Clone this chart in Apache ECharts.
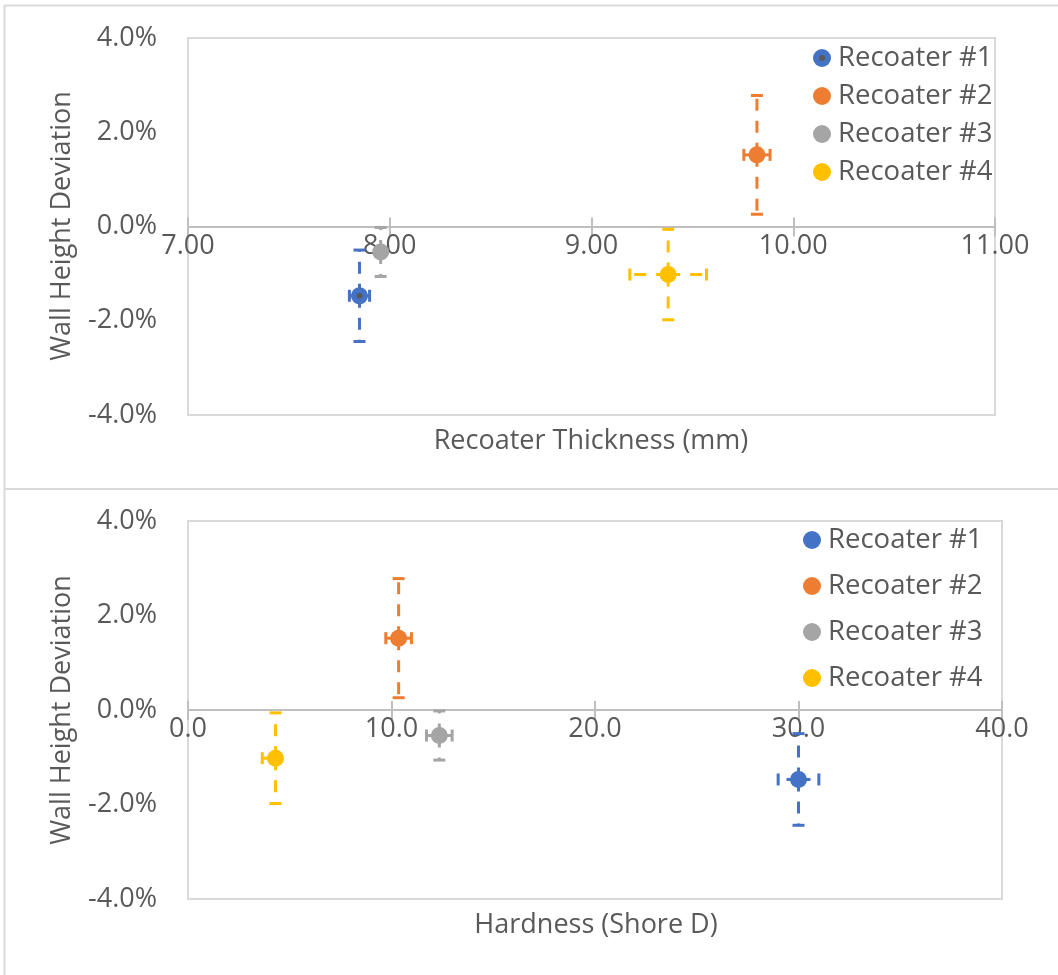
<!DOCTYPE html>
<html>
<head>
<meta charset="utf-8">
<script src="https://cdn.jsdelivr.net/npm/echarts@6/dist/echarts.min.js"></script>
<style>
html,body{margin:0;padding:0;background:#fff;}
#chart{width:1058px;height:975px;}
</style>
</head>
<body>
<div id="chart"></div>
<script>
// ---- Data ----
const seriesNames = ['Recoater #1', 'Recoater #2', 'Recoater #3', 'Recoater #4'];
const colors = ['#4472C4', '#ED7D31', '#A5A5A5', '#FFC000'];
// Wall height deviation (%) and its error
const deviation = [-1.47, 1.52, -0.54, -1.02];
const deviationErr = [0.97, 1.26, 0.52, 0.96];
// Top chart: recoater thickness (mm)
const thickness = [7.85, 9.82, 7.955, 9.38];
const thicknessErr = [0.05, 0.065, 0.02, 0.19];
// Bottom chart: hardness (Shore D)
const hardness = [30.0, 10.35, 12.35, 4.3];
const hardnessErrMinus = [1.0, 0.63, 0.63, 0.65];
const hardnessErrPlus = [1.0, 0.63, 0.63, 0.0];
// Axis ticks
const thicknessTicks = { min: 7, max: 11, interval: 1 };
const hardnessTicks = { min: 0, max: 40, interval: 10 };
const deviationTicks = { min: -4, max: 4, interval: 2 };

const FONT = 'Open Sans';
const TXT = '#595959';
const AXIS = '#bfbfbf';

const grids = [
  { left: 188, top: 38, width: 807, height: 377 },
  { left: 188, top: 521, width: 814, height: 378 }
];

const blueDotSvg = "<svg xmlns='http://www.w3.org/2000/svg' width='36' height='36'><circle cx='18' cy='18' r='18' fill='#4472C4'/><circle cx='18' cy='18' r='6' fill='#595959'/></svg>";
const blueDotIcon = 'image://data:image/svg+xml;utf8,' + encodeURIComponent(blueDotSvg);

function errRender(color) {
  return function (params, api) {
    const x = api.value(0), y = api.value(1);
    const xLo = api.value(2), xHi = api.value(3), yErr = api.value(4);
    const c = api.coord([x, y]);
    const children = [];
    const dash = { stroke: color, lineWidth: 3, lineDash: [12, 10] };
    const cap = { stroke: color, lineWidth: 3 };
    const half = 6;
    if (yErr > 0) {
      const up = api.coord([x, y + yErr]);
      const dn = api.coord([x, y - yErr]);
      children.push({ type: 'line', shape: { x1: c[0], y1: c[1], x2: up[0], y2: up[1] }, style: dash });
      children.push({ type: 'line', shape: { x1: c[0], y1: c[1], x2: dn[0], y2: dn[1] }, style: dash });
      children.push({ type: 'line', shape: { x1: up[0] - half, y1: up[1], x2: up[0] + half, y2: up[1] }, style: cap });
      children.push({ type: 'line', shape: { x1: dn[0] - half, y1: dn[1], x2: dn[0] + half, y2: dn[1] }, style: cap });
    }
    if (xLo > 0) {
      const l = api.coord([x - xLo, y]);
      children.push({ type: 'line', shape: { x1: c[0], y1: c[1], x2: l[0], y2: l[1] }, style: dash });
      children.push({ type: 'line', shape: { x1: l[0], y1: l[1] - half, x2: l[0], y2: l[1] + half }, style: cap });
    }
    if (xHi > 0) {
      const r = api.coord([x + xHi, y]);
      children.push({ type: 'line', shape: { x1: c[0], y1: c[1], x2: r[0], y2: r[1] }, style: dash });
      children.push({ type: 'line', shape: { x1: r[0], y1: r[1] - half, x2: r[0], y2: r[1] + half }, style: cap });
    }
    return { type: 'group', children: children };
  };
}

const series = [];
// error bars first (under markers)
seriesNames.forEach(function (n, i) {
  series.push({
    type: 'custom', name: 'errTop' + i, xAxisIndex: 0, yAxisIndex: 0, z: 2,
    renderItem: errRender(colors[i]), encode: { x: 0, y: 1 },
    data: [[thickness[i], deviation[i], thicknessErr[i], thicknessErr[i], deviationErr[i]]],
    silent: true
  });
  series.push({
    type: 'custom', name: 'errBot' + i, xAxisIndex: 2, yAxisIndex: 1, z: 2,
    renderItem: errRender(colors[i]), encode: { x: 0, y: 1 },
    data: [[hardness[i], deviation[i], hardnessErrMinus[i], hardnessErrPlus[i], deviationErr[i]]],
    silent: true
  });
});
seriesNames.forEach(function (n, i) {
  series.push({
    type: 'scatter', name: n, xAxisIndex: 0, yAxisIndex: 0, z: 5,
    symbol: i === 0 ? blueDotIcon : 'circle', symbolSize: 17,
    itemStyle: { color: colors[i], opacity: 1 },
    data: [[thickness[i], deviation[i]]]
  });
});
seriesNames.forEach(function (n, i) {
  series.push({
    type: 'scatter', name: n, xAxisIndex: 2, yAxisIndex: 1, z: 5,
    symbol: 'circle', symbolSize: 17,
    itemStyle: { color: colors[i], opacity: 1 },
    data: [[hardness[i], deviation[i]]]
  });
});

// place the x axis at y = 0 (middle of the symmetric -4..4 range)
function zeroOffset(grid) {
  const frac = (0 - deviationTicks.min) / (deviationTicks.max - deviationTicks.min);
  return -grids[grid].height * frac;
}
function mainX(grid, ticks, dec) {
  return {
    type: 'value', gridIndex: grid, position: 'bottom', offset: zeroOffset(grid),
    min: ticks.min, max: ticks.max, interval: ticks.interval,
    axisLine: { show: true, onZero: false, lineStyle: { color: AXIS, width: 2 } },
    axisTick: { show: true, inside: false, length: 10, lineStyle: { color: AXIS, width: 2 } },
    axisLabel: { color: TXT, fontSize: 27, fontFamily: FONT, margin: 6, formatter: function (v) { return v.toFixed(dec); } },
    splitLine: { show: false }
  };
}
function tickX(grid, ticks) {
  return {
    type: 'value', gridIndex: grid, position: 'bottom', offset: zeroOffset(grid),
    min: ticks.min, max: ticks.max, interval: ticks.interval,
    axisLine: { show: true, onZero: false, lineStyle: { color: AXIS, width: 2 } },
    axisTick: { show: true, inside: true, length: 9, lineStyle: { color: AXIS, width: 2 } },
    axisLabel: { show: false },
    splitLine: { show: false }
  };
}
function mainY(grid) {
  return {
    type: 'value', gridIndex: grid, min: deviationTicks.min, max: deviationTicks.max, interval: deviationTicks.interval,
    axisLine: { show: false, onZero: false }, axisTick: { show: false }, splitLine: { show: false },
    axisLabel: { color: TXT, fontSize: 27, fontFamily: FONT, margin: 31, formatter: function (v) { return v.toFixed(1) + '%'; } }
  };
}

function legend(top, gap, left, iconFirst) {
  return {
    orient: 'vertical', left: left, top: top, padding: 0, itemGap: gap,
    itemWidth: 18, itemHeight: 18,
    textStyle: { color: TXT, fontSize: 27.5, fontFamily: FONT, lineHeight: 30, padding: [0, 0, 0, 2] },
    data: seriesNames.map(function (n, i) { return { name: n, icon: (i === 0 && iconFirst) ? blueDotIcon : 'circle' }; }),
    selectedMode: false
  };
}

const option = {
  backgroundColor: '#ffffff',
  animation: false,
  grid: grids.map(function (g) {
    return { left: g.left, top: g.top, width: g.width, height: g.height, show: true, borderColor: '#d9d9d9', borderWidth: 2, containLabel: false };
  }),
  xAxis: [mainX(0, thicknessTicks, 2), tickX(0, thicknessTicks), mainX(1, hardnessTicks, 1), tickX(1, hardnessTicks)],
  yAxis: [mainY(0), mainY(1)],
  legend: [legend(43, 8, 813, true), legend(525, 16, 803, false)],
  graphic: [
    { type: 'line', shape: { x1: 4.5, y1: 5, x2: 4.5, y2: 975 }, style: { stroke: '#d9d9d9', lineWidth: 2 }, z: 0 },
    { type: 'line', shape: { x1: 4, y1: 5.5, x2: 1058, y2: 5.5 }, style: { stroke: '#d9d9d9', lineWidth: 2 }, z: 0 },
    { type: 'line', shape: { x1: 4, y1: 489, x2: 1058, y2: 489 }, style: { stroke: '#d9d9d9', lineWidth: 2 }, z: 0 },
    { type: 'text', x: 591, y: 441, style: { text: 'Recoater Thickness (mm)', fill: TXT, font: '27px "Open Sans"', textAlign: 'center', textVerticalAlign: 'middle' } },
    { type: 'text', x: 596, y: 925, style: { text: 'Hardness (Shore D)', fill: TXT, font: '27px "Open Sans"', textAlign: 'center', textVerticalAlign: 'middle' } },
    { type: 'text', x: 62, y: 226, rotation: Math.PI / 2, style: { text: 'Wall Height Deviation', fill: TXT, font: '27px "Open Sans"', textAlign: 'center', textVerticalAlign: 'middle' } },
    { type: 'text', x: 62, y: 710, rotation: Math.PI / 2, style: { text: 'Wall Height Deviation', fill: TXT, font: '27px "Open Sans"', textAlign: 'center', textVerticalAlign: 'middle' } }
  ],
  series: series
};

const chart = echarts.init(document.getElementById('chart'), null, { renderer: 'canvas' });
chart.setOption(option);
</script>
</body>
</html>
